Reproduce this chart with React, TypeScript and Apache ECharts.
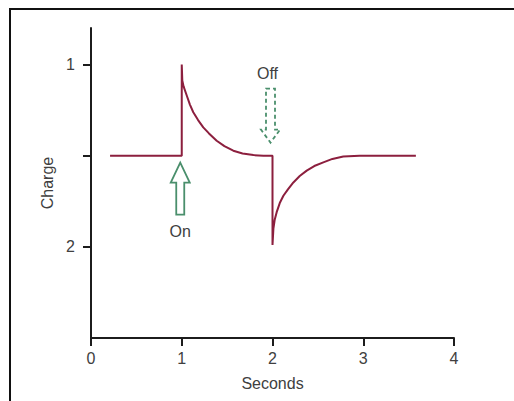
import React, { useEffect, useRef } from "react";
import * as echarts from "echarts";

// Recorded trace: time (s) and charge
const timeSec = [
  0.21, 1.0, 1.0, 1.006, 1.02, 1.055, 1.09, 1.127, 1.18, 1.237, 1.3, 1.385, 1.47, 1.568, 1.67, 1.79, 1.9, 2.0,
  2.0, 2.01, 2.025, 2.046, 2.08, 2.12, 2.17, 2.23, 2.3, 2.377, 2.46, 2.56, 2.66, 2.78, 2.96, 3.58,
];
const charge = [
  1.5, 1.5, 1.0, 1.088, 1.12, 1.17, 1.22, 1.262, 1.305, 1.345, 1.378, 1.418, 1.448, 1.473, 1.488, 1.497, 1.5, 1.5,
  1.99, 1.9, 1.85, 1.81, 1.76, 1.72, 1.685, 1.647, 1.612, 1.582, 1.557, 1.537, 1.518, 1.505, 1.5, 1.5,
];

// Stimulus switching events
const switchTimes = [1, 2];
const switchLabels = ["On", "Off"];
const restingCharge = 1.5;

const xTicks = [0, 1, 2, 3, 4];
const yTickValues = [1, 1.5, 2];
const yLabelValues = [1, 2];

const FONT = "Liberation Sans, Arial, Helvetica, sans-serif";
const TEXT = "#404040";
const AXIS = "#1c1c1c";
const TRACE = "#8c1f3e";
const ARROW = "#4a8f6c";

export default function App() {
  const ref = useRef<HTMLDivElement>(null);

  useEffect(() => {
    if (!ref.current) return;
    const chart = echarts.init(ref.current, null, { renderer: "svg" });

    const points = timeSec.map((t, i) => [t, charge[i]]);
    const events = switchTimes.map((t, i) => [t, restingCharge, switchLabels[i]]);

    chart.setOption({
      animation: false,
      backgroundColor: "#ffffff",
      grid: { left: 91, top: 28, right: 60, bottom: 63 },
      xAxis: {
        type: "value",
        min: xTicks[0],
        max: xTicks[xTicks.length - 1],
        interval: 1,
        name: "Seconds",
        nameLocation: "middle",
        nameGap: 37,
        nameTextStyle: { fontFamily: FONT, fontSize: 16, color: TEXT },
        axisLine: { lineStyle: { color: AXIS, width: 2 } },
        axisTick: { length: 8, lineStyle: { color: AXIS, width: 2 } },
        axisLabel: { fontFamily: FONT, fontSize: 16, color: TEXT, margin: 12 },
        splitLine: { show: false },
      },
      yAxis: {
        type: "value",
        inverse: true,
        min: 0.8,
        max: 2.5,
        name: "Charge",
        nameLocation: "middle",
        nameGap: 30,
        nameRotate: 90,
        nameTextStyle: { fontFamily: FONT, fontSize: 16, color: TEXT },
        axisLine: { show: true, lineStyle: { color: AXIS, width: 2 } },
        axisTick: { show: true, length: 8, customValues: yTickValues, lineStyle: { color: AXIS, width: 2 } },
        axisLabel: {
          customValues: yLabelValues,
          fontFamily: FONT,
          fontSize: 16,
          color: TEXT,
          margin: 16,
          formatter: (v: number) => String(v),
        },
        splitLine: { show: false },
      },
      graphic: [
        {
          type: "polyline",
          shape: { points: [[10, 401], [10, 9], [514, 9]] },
          style: { stroke: "#111", lineWidth: 2, fill: "none" },
          z: 10,
        },
      ],
      series: [
        {
          type: "line",
          data: points,
          showSymbol: false,
          lineStyle: { color: TRACE, width: 2 },
          z: 3,
        },
        {
          type: "custom",
          data: events,
          encode: { x: 0, y: 1 },
          z: 2,
          renderItem: (params: any, api: any) => {
            const p = api.coord([api.value(0), api.value(1)]);
            const label = switchLabels[params.dataIndex];
            const up = params.dataIndex === 0;
            const by = p[1];
            if (up) {
              const cx = p[0] - 1.5;
              const pts = [
                [cx, by + 7],
                [cx + 9.5, by + 27],
                [cx + 4, by + 27],
                [cx + 4, by + 59],
                [cx - 4, by + 59],
                [cx - 4, by + 27],
                [cx - 9.5, by + 27],
              ];
              return {
                type: "group",
                children: [
                  { type: "polygon", shape: { points: pts }, style: { fill: "#fff", stroke: ARROW, lineWidth: 1.8 } },
                  {
                    type: "text",
                    style: { text: label, x: cx, y: by + 76, align: "center", verticalAlign: "middle", font: `16px ${FONT}`, fill: TEXT },
                  },
                ],
              };
            }
            const cx = p[0] - 2;
            const pts = [
              [cx - 4.5, by - 67],
              [cx + 4.5, by - 67],
              [cx + 4.5, by - 26],
              [cx + 9.5, by - 26],
              [cx, by - 13],
              [cx - 9.5, by - 26],
              [cx - 4.5, by - 26],
            ];
            return {
              type: "group",
              children: [
                {
                  type: "polygon",
                  shape: { points: pts },
                  style: { fill: "#fff", stroke: ARROW, lineWidth: 1.8, lineDash: [4, 3] },
                },
                {
                  type: "text",
                  style: { text: label, x: cx - 3, y: by - 82, align: "center", verticalAlign: "middle", font: `16px ${FONT}`, fill: TEXT },
                },
              ],
            };
          },
        },
      ],
    });

    return () => chart.dispose();
  }, []);

  return <div ref={ref} style={{ position: "fixed", left: 0, top: 0, width: 514, height: 401 }} />;
}
